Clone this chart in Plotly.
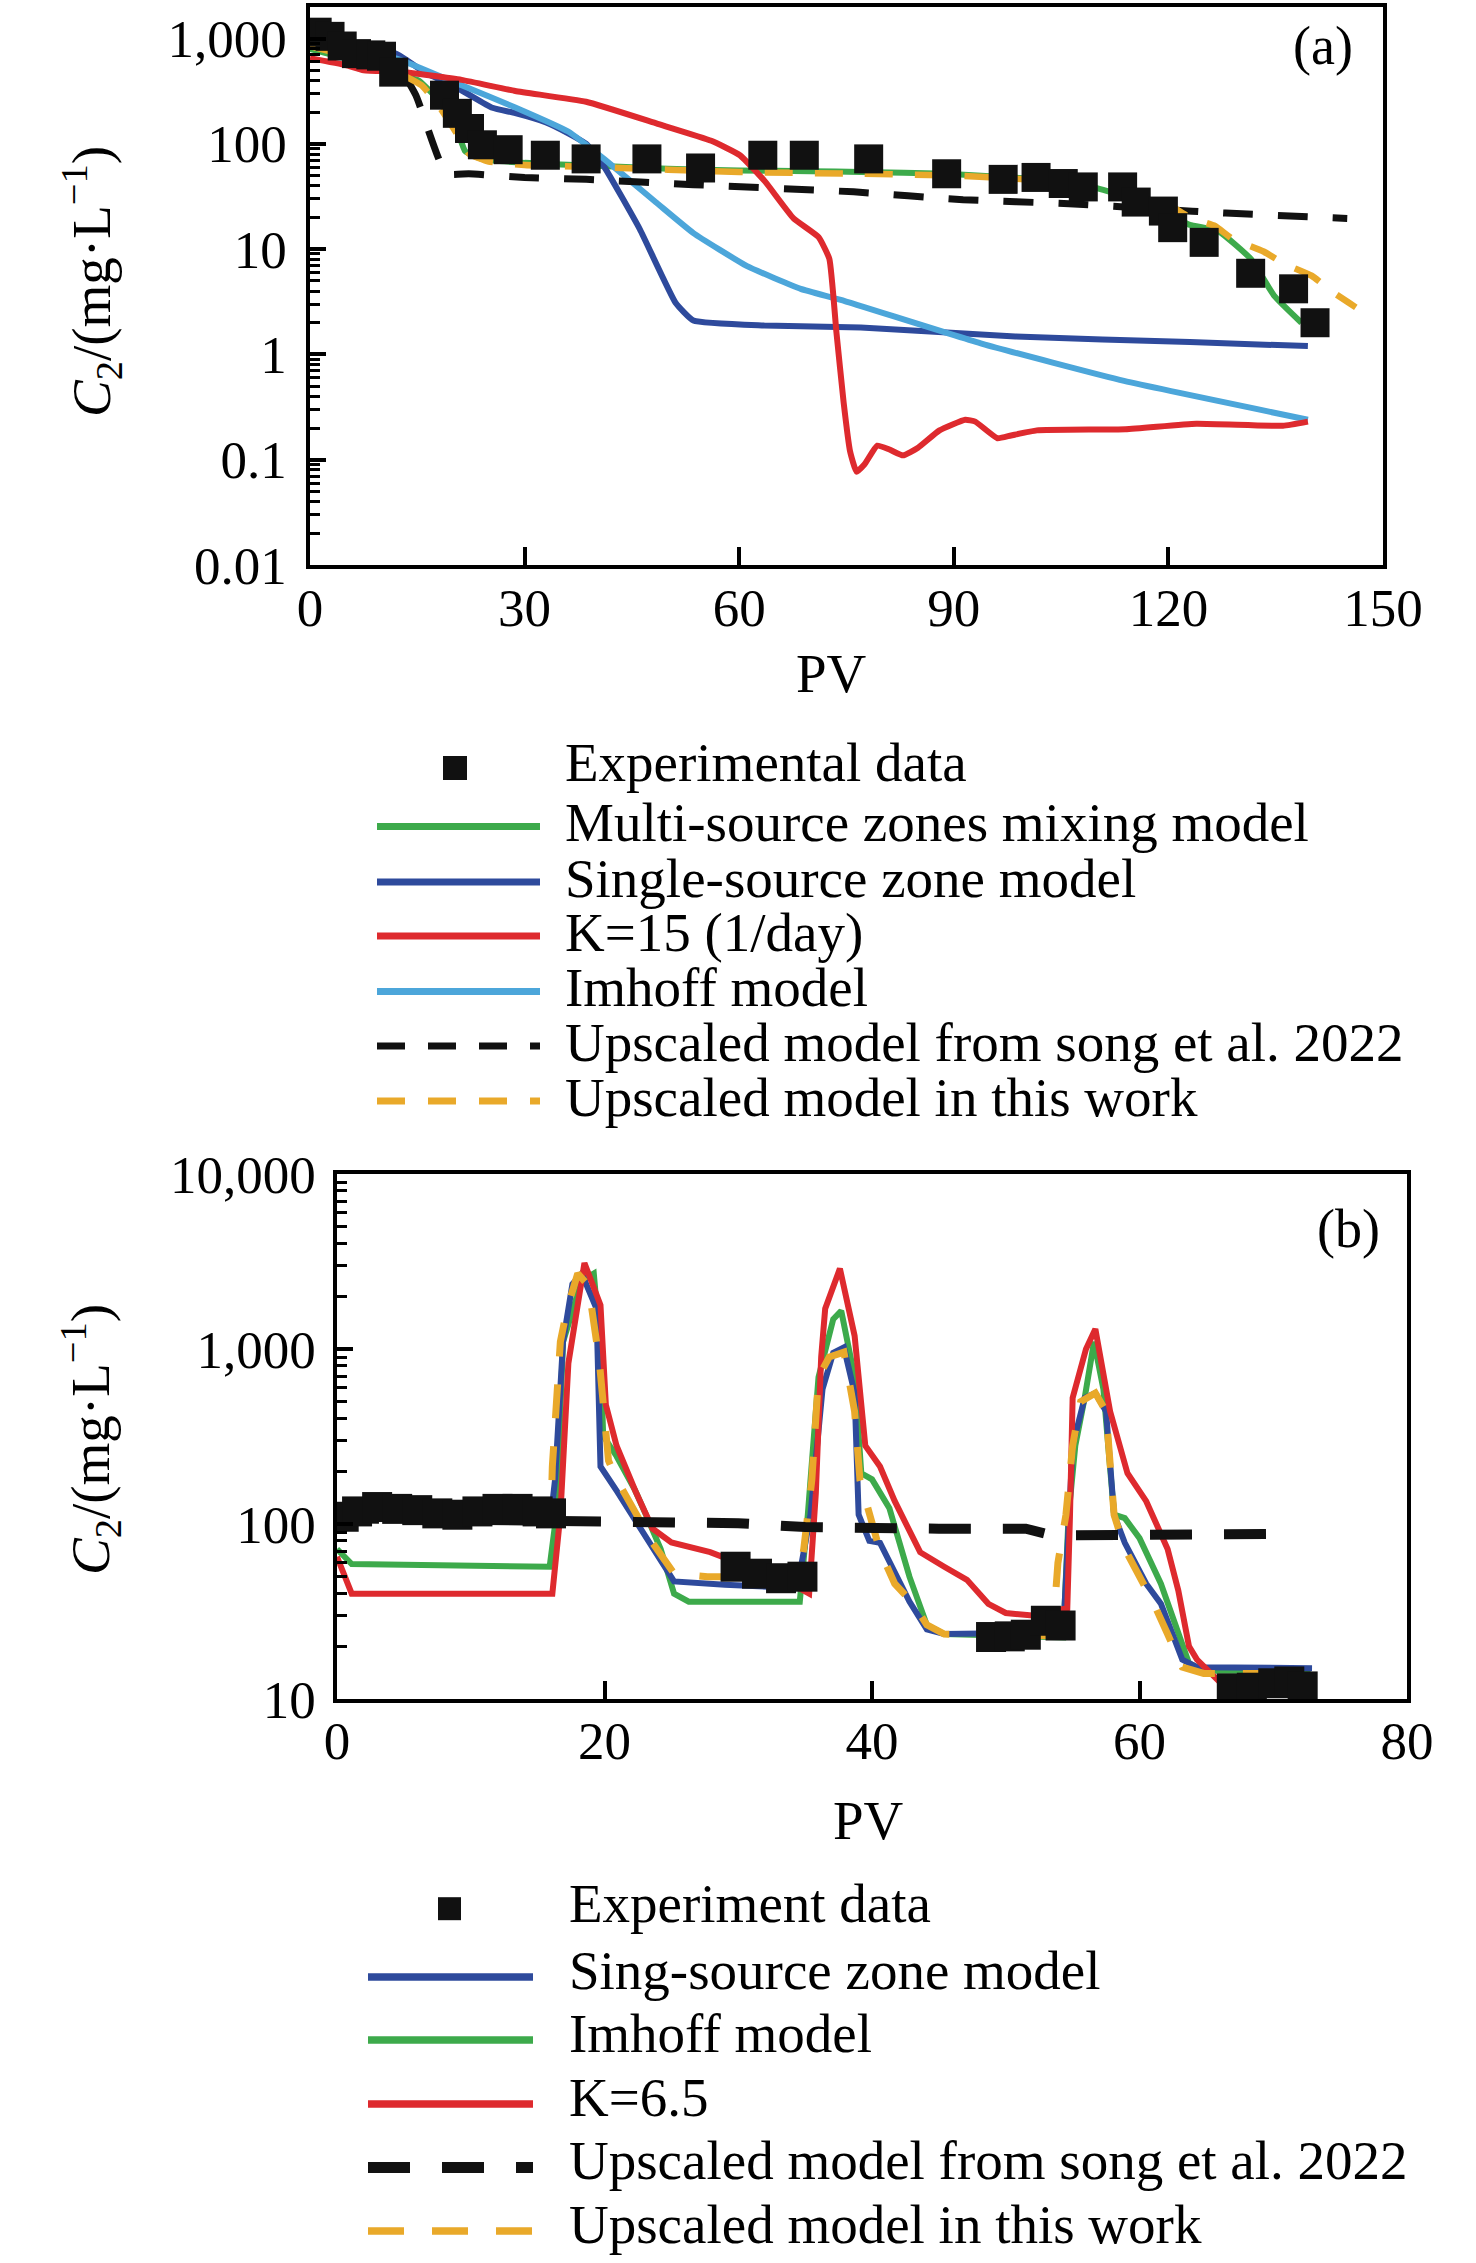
import plotly.graph_objects as go

W, H = 1476, 2263
FONT = "Liberation Serif"

# ---------------- panel (a) data ----------------
exp_a_x = [1.0, 2.8, 4.5, 6.5, 8.5, 10.0, 11.7, 18.8, 20.6, 22.3, 24.1, 27.7, 32.9, 38.6, 47.1, 54.6,
           63.3, 69.1, 78.1, 89.0, 96.9, 101.5, 105.3, 108.1, 113.6, 115.5, 119.3, 120.6, 125.0,
           131.5, 137.5, 140.5]
exp_a_y = [1150, 1050, 850, 720, 700, 680, 480, 290, 195, 140, 98, 88, 78, 72, 72, 59,
           78, 78, 72, 52, 46, 48, 42, 39, 39, 28, 23, 16, 11.6,
           5.9, 4.2, 2.0]

multi_a_x = [0, 5, 10, 13, 15.2, 18, 20.2, 21.7, 24, 30, 40, 50, 60, 70, 77, 89, 100, 105, 110,
             115, 120, 123, 127, 131.5, 134.8, 138.6]
multi_a_y = [800, 650, 520, 440, 400, 260, 160, 85, 72, 66, 62, 58, 56, 55, 54, 52, 47, 44, 38,
             30, 21, 17, 14.8, 8.1, 3.6, 2.0]

single_a_x = [0, 5, 12, 16, 21.1, 25.5, 28.7, 33, 36.1, 38.6, 41.1, 46.1, 51.1, 53.6, 63.5, 77,
              98.6, 123, 139.5]
single_a_y = [900, 800, 720, 480, 325, 220, 196, 160, 126, 100, 61, 15.5, 3.1, 2.1, 1.88, 1.8,
              1.48, 1.31, 1.2]

k15_a_x = [0, 5, 7.5, 12.7, 21.2, 28.7, 38.6, 48.6, 56.1, 60.1, 63.6, 67.6, 71.1, 72.6, 73.6,
           74.6, 75.5, 76.4, 77.5, 79.3, 81, 82.9, 85, 88, 91.6, 93, 96.1, 98, 101.6, 114,
           123.9, 136, 139.5]
k15_a_y = [650, 560, 500, 485, 405, 318, 251, 155, 107, 78, 44, 19.6, 13, 8.1, 1.6,
           0.35, 0.12, 0.077, 0.09, 0.136, 0.125, 0.11, 0.13, 0.19, 0.24, 0.23, 0.16, 0.17, 0.19, 0.195,
           0.22, 0.21, 0.23]

imhoff_a_x = [0, 5, 12, 21.2, 28.7, 36.1, 41.1, 48.6, 53.6, 61.1, 68.6, 74.2, 94, 113.8, 139.5]
imhoff_a_y = [900, 780, 650, 360, 222, 131, 72, 27, 14.2, 6.9, 4.2, 3.3, 1.26, 0.56, 0.24]

song_a_x = [0, 10, 12, 14.8, 19.0, 22.2, 30, 38.6, 53.6, 76, 91.3, 106.1, 118.6, 128, 145]
song_a_y = [900, 700, 600, 290, 52, 52, 48, 46, 41, 35, 29.5, 27, 24, 22, 19.6]

this_a_x = [0, 10, 13, 15.6, 18, 20.5, 22.2, 25, 30, 40, 60, 77, 90, 100, 110, 118, 123, 126.5,
            128.9, 133.3, 136.3, 140, 143, 146.2]
this_a_y = [850, 560, 450, 360, 230, 126, 81, 68, 63, 60, 54, 52, 50, 46, 40, 32, 20, 16.6,
            12.6, 9.5, 7.2, 5.6, 3.9, 2.8]

# ---------------- panel (b) data ----------------
exp_b_x = [0.5, 1.5, 3, 4.5, 6, 7.5, 9, 10.5, 12, 13.5, 15, 16, 29.8, 31.4, 33.2, 34.8,
           48.9, 50.3, 51.5, 53.0, 54.1, 66.9, 68.4, 70.0, 71.2, 72.2]
exp_b_y = [110, 118, 125, 122, 120, 115, 113, 118, 122, 122, 118, 115, 57, 52, 49, 50,
           22.6, 22.8, 23.3, 28, 26.3, 11.5, 11.6, 12.3, 12.6, 11.8]

single_b_x = [0, 10, 16.0, 16.3, 16.9, 17.6, 18.3, 19.4, 19.7, 20.9, 23.1, 24.2, 25.2, 29.0, 34.4,
              35.4, 36.3, 37.1, 37.9, 38.7, 39.0, 39.8, 40.6, 42.8, 44.1, 45.4, 54.3, 55.0, 55.9,
              56.7, 57.5, 58.1, 58.9, 60.5, 61.6, 63.2, 64.3, 72.9]
single_b_y = [112, 112, 112, 178, 1100, 2350, 2700, 1700, 213, 155, 85, 63, 47, 45, 43,
              113, 590, 950, 1020, 560, 113, 80, 78, 36, 25, 23.5, 24, 280, 525,
              560, 440, 113, 78, 45.6, 35, 16.8, 15.2, 15]

imhoff_b_x = [0, 1.1, 5, 10, 15.9, 16.4, 16.9, 18.3, 19.2, 19.7, 19.9, 20.9, 22.3, 23.1, 24.2,
              25.2, 26.3, 30, 34.6, 35.2, 36.0, 37.1, 37.7, 38.7, 39.2, 40.0, 41.3, 42.8, 44.1,
              45.4, 50, 54.3, 54.7, 55.2, 55.9, 56.6, 57.3, 58.1, 58.9, 60.0, 61.6, 62.9, 63.7,
              64.8, 72.8]
imhoff_b_y = [72, 59, 58.5, 58, 57, 113, 1100, 2460, 2700, 1000, 320, 244, 155, 113, 72,
              40, 36, 36, 36, 113, 690, 1480, 1650, 690, 195, 180, 123, 50, 26.5,
              23.5, 23, 22.5, 113, 280, 525, 1100, 590, 113, 108, 83, 45.6, 23.5, 16,
              14.5, 14.5]

k65_b_x = [0, 1.1, 5, 10, 16.1, 16.7, 17.3, 18.5, 19.7, 20.1, 20.9, 22.3, 23.6, 25.0, 27.9, 30,
           33, 35.3, 35.8, 36.2, 36.5, 37.6, 38.7, 39.5, 40.6, 41.7, 43.6, 45.4, 47.1, 48.7,
           50.0, 52, 54.6, 54.8, 55.0, 56.0, 56.7, 57.8, 59.1, 60.5, 62.1, 62.9, 63.7, 64.3,
           65.6, 66.9, 68, 72]
k65_b_y = [65, 40, 40, 40, 40, 113, 830, 3100, 1780, 480, 280, 155, 94, 78.5, 69, 60,
           50, 40, 150, 900, 1700, 2880, 1190, 280, 213, 135, 69, 57, 48, 35,
           31, 30, 33, 110, 525, 1000, 1300, 440, 195, 135, 72, 41.7, 20, 16.8,
           13.3, 10.7, 9.5, 8.5]

song_b_x = [0, 10, 20, 25, 30, 35, 40, 45, 50, 51.5, 53.5, 56, 60, 65, 71.5]
song_b_y = [108, 106, 104, 103, 101, 96, 94, 94, 94, 94, 86, 86, 87, 88, 88]

this_b_x = [0, 10, 16.0, 16.1, 16.7, 17.2, 18.0, 18.8, 19.6, 20.0, 20.3, 20.9, 22.8, 23.6, 25.2,
            27.7, 30, 34.5, 34.9, 35.5, 36.0, 36.8, 37.9, 38.7, 39.1, 40.6, 41.7, 43.1, 44.1,
            45.4, 53.5, 53.9, 54.5, 55.0, 55.6, 56.7, 57.5, 58.1, 58.9, 61.0, 62.1, 63.2, 64.8, 70]
this_b_y = [125, 115, 114, 213, 1100, 1700, 2700, 2300, 870, 440, 230, 180, 99, 78, 52,
            50, 50, 50, 72, 178, 690, 900, 960, 440, 178, 70, 45.6, 35, 26.5,
            23.5, 23, 60, 113, 280, 500, 560, 440, 113, 72, 36, 23.5, 15.2, 14, 14]

# tick labels
a_tickvals = [0.01, 0.1, 1, 10, 100, 1000]
a_ticktext = ["0.01", "0.1", "1", "10", "100", "1,000"]
b_tickvals = [10, 100, 1000, 10000]
b_ticktext = ["10", "100", "1,000", "10,000"]
a_xticks = [0, 30, 60, 90, 120, 150]
b_xticks = [0, 20, 40, 60, 80]

legend_a_names = ["Experimental data", "Multi-source zones mixing model", "Single-source zone model",
                  "K=15 (1/day)", "Imhoff model", "Upscaled model from song et al. 2022",
                  "Upscaled model in this work"]
legend_b_names = ["Experiment data", "Sing-source zone model", "Imhoff model", "K=6.5",
                  "Upscaled model from song et al. 2022", "Upscaled model in this work"]

GREEN = "#3DAA4B"
BLUE = "#2E4A9C"
RED = "#DE2A2E"
LBLUE = "#4CA6DA"
ORANGE = "#E9A92A"
BLACK = "#111111"


def minor_vals(lo, hi):
    out = []
    for d in range(lo, hi):
        for k in range(2, 10):
            out.append(k * 10 ** d)
    return out


fig = go.Figure()

# panel a traces
sty_a = [
    ("Multi-source zones mixing model", multi_a_x, multi_a_y, GREEN, None, 6),
    ("Single-source zone model", single_a_x, single_a_y, BLUE, None, 6),
    ("Imhoff model", imhoff_a_x, imhoff_a_y, LBLUE, None, 6),
    ("K=15 (1/day)", k15_a_x, k15_a_y, RED, None, 6),
    ("Upscaled model from song et al. 2022", song_a_x, song_a_y, BLACK, "30px,25px", 7),
    ("Upscaled model in this work", this_a_x, this_a_y, ORANGE, "28px,22px", 6.5),
]
for name, xs, ys, col, dash, w in sty_a:
    fig.add_trace(go.Scatter(x=xs, y=ys, mode="lines", name=name, showlegend=False,
                             line=dict(color=col, width=w, dash=dash, shape="spline", smoothing=0.4),
                             xaxis="x", yaxis="y"))
fig.add_trace(go.Scatter(x=exp_a_x, y=exp_a_y, mode="markers", name="Experimental data", showlegend=False,
                         marker=dict(symbol="square", size=29, color=BLACK), xaxis="x", yaxis="y"))

# panel b traces
sty_b = [
    ("Imhoff model", imhoff_b_x, imhoff_b_y, GREEN, None, 6),
    ("Sing-source zone model", single_b_x, single_b_y, BLUE, None, 6),
    ("K=6.5", k65_b_x, k65_b_y, RED, None, 6),
    ("Upscaled model in this work", this_b_x, this_b_y, ORANGE, "34px,28px", 7),
    ("Upscaled model from song et al. 2022", song_b_x, song_b_y, BLACK, "42px,32px", 10),
]
for name, xs, ys, col, dash, w in sty_b:
    fig.add_trace(go.Scatter(x=xs, y=ys, mode="lines", name=name, showlegend=False,
                             line=dict(color=col, width=w, dash=dash),
                             xaxis="x2", yaxis="y2"))
fig.add_trace(go.Scatter(x=exp_b_x, y=exp_b_y, mode="markers", name="Experiment data", showlegend=False,
                         marker=dict(symbol="square", size=30, color=BLACK), xaxis="x2", yaxis="y2"))


def px_x(p):
    return p / W


def px_y(p):
    return 1 - p / H


tickfont = dict(family=FONT, size=53, color="black")
axis_common = dict(showline=True, linewidth=3.5, linecolor="black", mirror=True, showgrid=False,
                   zeroline=False, ticks="inside", tickwidth=3.5, tickcolor="black", tickfont=tickfont,
                   automargin=False)

fig.update_layout(
    width=W, height=H, margin=dict(l=0, r=0, t=0, b=0, pad=0, autoexpand=False),
    paper_bgcolor="white", plot_bgcolor="white", showlegend=False,
    font=dict(family=FONT, color="black"),
    xaxis=dict(domain=[px_x(310), px_x(1383)], range=[0, 150], tickmode="array", tickvals=a_xticks,
               ticklen=18, ticklabelstandoff=-6, anchor="y", **axis_common),
    yaxis=dict(domain=[px_y(565), px_y(7)], type="log", range=[-2, 3.3], tickmode="array",
               tickvals=a_tickvals, ticktext=a_ticktext, ticklen=16, ticklabelstandoff=9, anchor="x",
               minor=dict(tickmode="array", tickvals=minor_vals(-2, 4), ticks="inside", ticklen=10,
                          tickwidth=3, tickcolor="black", showgrid=False),
               **axis_common),
    xaxis2=dict(domain=[px_x(337), px_x(1407)], range=[0, 80], tickmode="array", tickvals=b_xticks,
                ticklen=18, ticklabelstandoff=-7, anchor="y2", **axis_common),
    yaxis2=dict(domain=[px_y(1699), px_y(1174)], type="log", range=[1, 4], tickmode="array",
                tickvals=b_tickvals, ticktext=b_ticktext, ticklen=16, ticklabelstandoff=7, anchor="x2",
                minor=dict(tickmode="array", tickvals=minor_vals(1, 4), ticks="inside", ticklen=10,
                           tickwidth=3, tickcolor="black", showgrid=False),
                **axis_common),
)

ann = []
ytitle = "<i>C</i><sub>2</sub>/(mg·L<sup>−1</sup>)"
ann.append(dict(text=ytitle, x=px_x(91), y=px_y(282), textangle=-90, font=dict(size=55)))
ann.append(dict(text=ytitle, x=px_x(90), y=px_y(1440), textangle=-90, font=dict(size=55)))
ann.append(dict(text="PV", x=px_x(832), y=px_y(673), font=dict(size=55)))
ann.append(dict(text="PV", x=px_x(869), y=px_y(1820), font=dict(size=55)))
ann.append(dict(text="(a)", x=px_x(1323), y=px_y(46), font=dict(size=54)))
ann.append(dict(text="(b)", x=px_x(1348), y=px_y(1229), font=dict(size=54)))

shapes = []
# legend (a)
leg_a_style = [None, (GREEN, None), (BLUE, None), (RED, None), (LBLUE, None),
               (BLACK, "28px,23px"), (ORANGE, "28px,23px")]
leg_a_rows = [768, 826.5, 882, 936, 991.5, 1046, 1101]
for i, name in enumerate(legend_a_names):
    yy = leg_a_rows[i]
    if leg_a_style[i] is None:
        shapes.append(dict(type="rect", xref="paper", yref="paper", x0=px_x(443), x1=px_x(467),
                           y0=px_y(yy + 12), y1=px_y(yy - 12), fillcolor=BLACK, line=dict(width=0)))
        ann.append(dict(text=name, x=px_x(563), y=px_y(763), xanchor="left", font=dict(size=55)))
    else:
        col, dash = leg_a_style[i]
        shapes.append(dict(type="line", xref="paper", yref="paper", x0=px_x(377), x1=px_x(540),
                           y0=px_y(yy), y1=px_y(yy), line=dict(color=col, width=7, dash=dash)))
        ann.append(dict(text=name, x=px_x(563), y=px_y(yy - 4), xanchor="left", font=dict(size=55)))

# legend (b)
leg_b_style = [None, (BLUE, None), (GREEN, None), (RED, None), (BLACK, "42px,32px"), (ORANGE, "36px,28px")]
leg_b_rows = [1908.7, 1977, 2040, 2104, 2167.5, 2231]
for i, name in enumerate(legend_b_names):
    yy = leg_b_rows[i]
    if leg_b_style[i] is None:
        shapes.append(dict(type="rect", xref="paper", yref="paper", x0=px_x(438), x1=px_x(461),
                           y0=px_y(yy + 11.5), y1=px_y(yy - 11.5), fillcolor=BLACK, line=dict(width=0)))
        ann.append(dict(text=name, x=px_x(567), y=px_y(1903), xanchor="left", font=dict(size=55)))
    else:
        col, dash = leg_b_style[i]
        w = 11 if col == BLACK else 7.5
        shapes.append(dict(type="line", xref="paper", yref="paper", x0=px_x(368), x1=px_x(533),
                           y0=px_y(yy), y1=px_y(yy), line=dict(color=col, width=w, dash=dash)))
        ann.append(dict(text=name, x=px_x(567), y=px_y(yy - 7), xanchor="left", font=dict(size=55)))

for a in ann:
    a.setdefault("xref", "paper")
    a.setdefault("yref", "paper")
    a.setdefault("showarrow", False)
    a.setdefault("xanchor", "center")
    a.setdefault("yanchor", "middle")
    a["font"] = dict(family=FONT, color="black", size=a["font"]["size"])

fig.update_layout(annotations=ann, shapes=shapes)

fig.write_html("out.html", config={"displayModeBar": False},
               post_script="document.body.style.margin='0';document.body.style.overflow='hidden';")
